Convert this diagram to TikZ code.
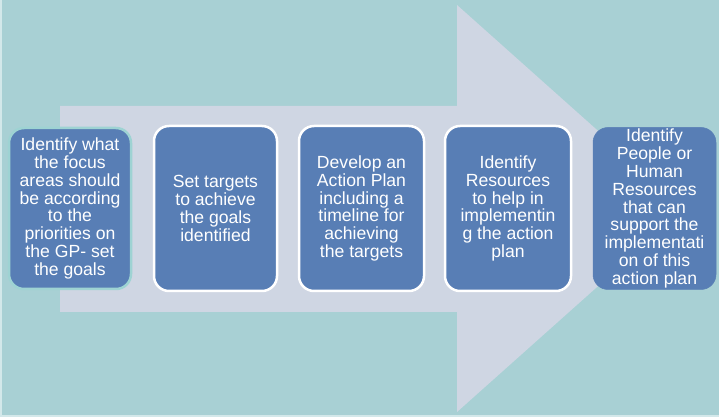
\documentclass[tikz,border=0pt]{standalone}
\usepackage{fontspec}
\setmainfont{Liberation Sans}
\definecolor{bgc}{HTML}{A8D0D4}
\definecolor{edgec}{HTML}{D3E8EA}
\definecolor{arrowc}{HTML}{CFD6E3}
\definecolor{boxc}{HTML}{587EB5}
\definecolor{tealborder}{HTML}{9ED3D3}
\tikzset{
  stepbox/.style={rectangle, rounded corners=15pt, fill=boxc, draw=white, line width=2.5pt,
    text=white, align=center, inner sep=0pt,
    font=\fontsize{17.6}{17.9}\selectfont,
    minimum width=123pt, minimum height=165pt},
}
\begin{document}
\begin{tikzpicture}[x=1pt,y=1pt]
\fill[bgc] (0,0) rectangle (719,417);
\useasboundingbox (0,0) rectangle (719,417);
\fill[edgec] (0,0) rectangle (2,417);
\fill[edgec] (0,0) rectangle (719,2);
% big arrow
\fill[arrowc] (60,311) -- (457,311) -- (457,412) -- (685,208.5) -- (457,5) -- (457,105) -- (60,105) -- cycle;
% boxes
\node[stepbox, draw=tealborder, minimum width=122pt, minimum height=161pt] (b1) at (70,208.5)
  {Identify what\\the focus\\areas should\\be according\\to the\\priorities on\\the GP- set\\the goals};
\node[stepbox] (b2) at (215.5,208.5) {Set targets\\to achieve\\the goals\\identified};
\node[stepbox, minimum width=125pt] (b3) at (361.5,208.5) {Develop an\\Action Plan\\including a\\timeline for\\achieving\\the targets};
\node[stepbox, minimum width=126pt] (b4) at (508,208.5) {Identify\\Resources\\to help in\\implementin\\g the action\\plan};
\node[stepbox, draw=boxc, line width=0.5pt, minimum width=123pt, minimum height=162pt] (b5) at (654.5,208.5)
  {Identify\\People or\\Human\\Resources\\that can\\support the\\implementati\\on of this\\action plan};
\end{tikzpicture}
\end{document}
